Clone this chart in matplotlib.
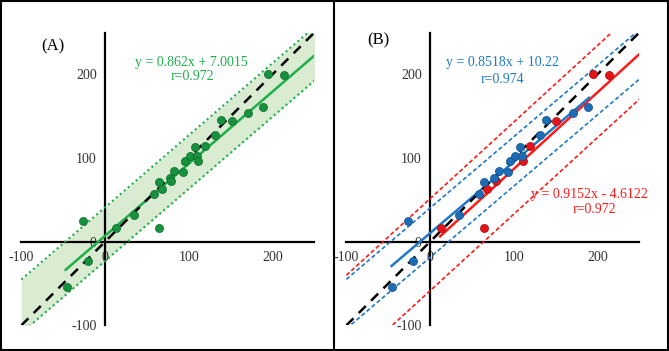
import numpy as np
import matplotlib
matplotlib.use("Agg")
import matplotlib.pyplot as plt
from matplotlib.lines import Line2D

plt.rcParams['font.family'] = ['Liberation Serif', 'DejaVu Serif']

# points
blue_x = [-26, -20, -46, 34, 59, 64, 77, 82, 93, 95, 101, 108, 110, 131, 139, 171, 189]
blue_y = [25, -23, -54, 32, 57, 71, 76, 84, 83, 97, 103, 113, 102, 127, 145, 154, 161]
red_x = [13, 65, 68, 79, 111, 119, 151, 195, 214]
red_y = [16, 16, 63, 73, 96, 114, 144, 200, 199]
all_x = blue_x + red_x
all_y = blue_y + red_y

ticks = [-100, 0, 100, 200]
tick_labels = ['-100', '0', '100', '200']

# fits (from the picture's equations)
fit_a = (0.862, 7.0015)
fit_blue = (0.8518, 10.22)
fit_red = (0.9152, -4.6122)
range_a = (-47, 250)
range_blue = (-46, 190)
range_red = (12, 250)
band_a = (34, -30)
band_blue = (30, -29)
band_red = (56, -54)

GREEN = '#1fae4c'
GREEN_PT = '#17913d'
FILL = '#d9ebd0'
BLUE = '#1f78c6'
BLUE_PT = '#1d6db5'
RED = '#ff1a1a'
RED_PT = '#e5141a'

fig = plt.figure(figsize=(6.69, 3.51), dpi=100)
ax1 = fig.add_axes([0.0318, 0.0729, 0.4382, 0.8345])
ax2 = fig.add_axes([0.5177, 0.0729, 0.4379, 0.8345])


def setup(ax):
    ax.set_xlim(-100, 250)
    ax.set_ylim(-100, 250)
    for s in ['top', 'right']:
        ax.spines[s].set_visible(False)
    ax.spines['left'].set_position('zero')
    ax.spines['bottom'].set_position('zero')
    for s in ['left', 'bottom']:
        ax.spines[s].set_linewidth(1.6)
        ax.spines[s].set_color('black')
    ax.set_xticks(ticks)
    ax.set_xticklabels(tick_labels)
    ax.set_yticks(ticks)
    ax.set_yticklabels(tick_labels)
    ax.tick_params(length=0, labelsize=10, labelcolor='#333333')
    ax.tick_params(axis='x', pad=7)
    ax.tick_params(axis='y', pad=6)
    ax.patch.set_alpha(0)
    xx = np.array([-100, 250])
    ax.plot(xx, xx, color='black', lw=1.8, ls=(0, (4, 3)), zorder=4)


def fitline(ax, fit, rng, color, lw=1.8, ls='-', off=0, zorder=3):
    xx = np.array(rng, dtype=float)
    yy = fit[0] * xx + fit[1] + off
    ax.plot(xx, yy, color=color, lw=lw, ls=ls, zorder=zorder)


# panel A
setup(ax1)
xb = np.array([-100, 250])
ax1.fill_between(xb, fit_a[0] * xb + fit_a[1] + band_a[1], fit_a[0] * xb + fit_a[1] + band_a[0],
                 color=FILL, lw=0, zorder=1)
fitline(ax1, fit_a, (-100, 250), GREEN, lw=1.5, ls=(0, (1, 1.5)), off=band_a[0])
fitline(ax1, fit_a, (-100, 250), GREEN, lw=1.5, ls=(0, (1, 1.5)), off=band_a[1])
fitline(ax1, fit_a, range_a, GREEN)
ax1.scatter(all_x, all_y, s=34, color=GREEN_PT, edgecolor='#0f6a2a', lw=0.5, zorder=5)
ax1.text(-76, 233, '(A)', fontsize=12, ha='left', va='center')
ax1.text(103, 214, 'y = 0.862x + 7.0015', color=GREEN, fontsize=10, ha='center', va='center')
ax1.text(104, 197, 'r=0.972', color=GREEN, fontsize=10, ha='center', va='center')

# panel B
setup(ax2)
fitline(ax2, fit_red, (-100, 250), RED, lw=1.2, ls=(0, (2.5, 1.5)), off=band_red[0])
fitline(ax2, fit_red, (-100, 250), RED, lw=1.2, ls=(0, (2.5, 1.5)), off=band_red[1])
fitline(ax2, fit_blue, (-100, 250), BLUE, lw=1.2, ls=(0, (2.5, 1.5)), off=band_blue[0])
fitline(ax2, fit_blue, (-100, 250), BLUE, lw=1.2, ls=(0, (2.5, 1.5)), off=band_blue[1])
fitline(ax2, fit_red, range_red, RED)
fitline(ax2, fit_blue, range_blue, BLUE)
ax2.scatter(red_x, red_y, s=34, color=RED_PT, edgecolor='#a00d10', lw=0.5, zorder=5)
ax2.scatter(blue_x, blue_y, s=34, color=BLUE_PT, edgecolor='#0f4f8a', lw=0.5, zorder=5)
ax2.text(-75, 241, '(B)', fontsize=12, ha='left', va='center')
ax2.text(86, 214, 'y = 0.8518x + 10.22', color=BLUE, fontsize=10, ha='center', va='center')
ax2.text(86, 194, 'r=0.974', color=BLUE, fontsize=10, ha='center', va='center')
ax2.text(191, 57, 'y = 0.9152x - 4.6122', color=RED, fontsize=10, ha='center', va='center')
ax2.text(196, 38, 'r=0.972', color=RED, fontsize=10, ha='center', va='center')

# frame around panels
for xs, ys in [([0.002, 0.998], [0.003, 0.003]), ([0.002, 0.998], [0.997, 0.997]),
               ([0.002, 0.002], [0.003, 0.997]), ([0.998, 0.998], [0.003, 0.997]),
               ([0.4993, 0.4993], [0.003, 0.997])]:
    fig.add_artist(Line2D(xs, ys, color='black', lw=1.5, transform=fig.transFigure))

fig.savefig('out.png', dpi=100)
